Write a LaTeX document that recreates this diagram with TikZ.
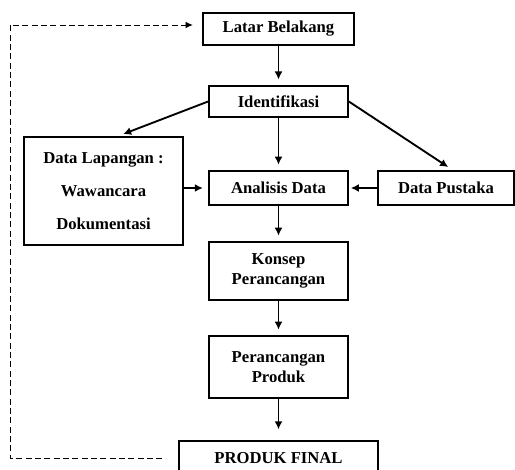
\documentclass[tikz,border=0pt]{standalone}
\usepackage{fontspec}
\setmainfont{Liberation Serif}
\usetikzlibrary{arrows.meta}

\begin{document}
\begin{tikzpicture}[x=0.75pt, y=-0.75pt,
      kotak/.style={draw, line width=1.5pt, align=center, inner sep=0pt,
                    font=\fontsize{12.5}{15.5}\selectfont\bfseries},
      alur/.style={-{Latex[length=6pt,width=6pt]}, line width=1.4pt, shorten >=4pt},
      balik/.style={-{Latex[length=5.5pt,width=5pt]}, line width=0.7pt,
                    dash pattern=on 4.5pt off 2.5pt}]
    \useasboundingbox (0,0) rectangle (515,470);
    % alur utama
    \node[kotak, minimum width=113pt, minimum height=24pt]   (lat) at (278.5,29)  {Latar Belakang};
    \node[kotak, minimum width=104pt, minimum height=23.5pt] (ide) at (278.5,101.5) {Identifikasi};
    \node[kotak, minimum width=104pt, minimum height=25.5pt] (ana) at (278.5,188) {Analisis Data};
    \node[kotak, minimum width=104pt, minimum height=43.5pt] (kon) at (278.5,271) {Konsep\\ Perancangan};
    \node[kotak, minimum width=104pt, minimum height=46.5pt] (pro) at (278.5,367) {Perancangan\\ Produk};
    \node[kotak, minimum width=149pt, minimum height=25.5pt] (fin) at (278.5,458) {PRODUK FINAL};
    % sumber data
    \node[kotak, minimum width=119pt, minimum height=81pt,
          font=\fontsize{12.5}{25}\selectfont\bfseries]       (lap) at (103.5,191) {Data Lapangan :\\ Wawancara\\ Dokumentasi};
    \node[kotak, minimum width=102pt, minimum height=25.5pt] (pus) at (446,188)   {Data Pustaka};
    % panah
    \draw[alur] (lat) -- (ide);
    \draw[alur] (ide) -- (ana);
    \draw[alur] (ide.west) -- ([xshift=11pt]lap.north);
    \draw[alur] (ide.east) -- ([xshift=5pt]pus.north);
    \draw[alur] (lap.east |- ana) -- (ana.west);
    \draw[alur, shorten >=1.5pt] (pus) -- (ana);
    \draw[alur] (ana) -- (kon);
    \draw[alur] (kon) -- (pro);
    \draw[alur, shorten >=8pt] (pro) -- (fin);
    % umpan balik
    \coordinate (kiri) at (10,0);
    \draw[balik, shorten <=12pt, shorten >=7pt] (fin.west) -- (fin.west -| kiri) |- ([yshift=3pt]lat.west);
\end{tikzpicture}
\end{document}
